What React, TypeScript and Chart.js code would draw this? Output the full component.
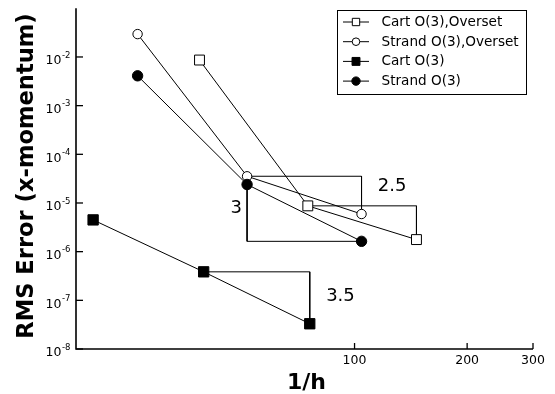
import { useEffect, useRef } from "react";
import { Chart, registerables } from "chart.js";

Chart.register(...registerables);

// Grid resolution (1/h) and RMS error of the x-momentum for each scheme
const cartOversetH = [38.5, 75.0, 146.4];
const cartOversetErr = [8.65e-3, 8.73e-6, 1.77e-6];
const strandOversetH = [26.3, 51.6, 104.4];
const strandOversetErr = [2.95e-2, 3.54e-5, 5.93e-6];
const cartH = [20.0, 39.5, 75.9];
const cartErr = [4.49e-6, 3.85e-7, 3.3e-8];
const strandH = [26.3, 51.6, 104.4];
const strandErr = [4.1e-3, 2.4e-5, 1.63e-6];

const seriesNames = ["Cart O(3),Overset", "Strand O(3),Overset", "Cart O(3)", "Strand O(3)"];

// Axis ticks
const xTicks = [100, 200, 300];
const yExponents = [-8, -7, -6, -5, -4, -3, -2];

// Observed order-of-accuracy labels
const slopeLabels = ["2.5", "3", "3.5"];
const slopeLabelH = [126, 48.3, 91.7];
const slopeLabelErr = [2.19e-5, 7.7e-6, 1.22e-7];

const FONT = '"DejaVu Sans", "Liberation Sans", sans-serif';

const pts = (xs: number[], ys: number[]) => xs.map((x, i) => ({ x, y: ys[i] }));

// Slope triangles drawn off the finest two grids of each scheme
const triStrandOverset = [
  { x: strandOversetH[1], y: strandOversetErr[1] },
  { x: strandOversetH[2], y: strandOversetErr[1] },
  { x: strandOversetH[2], y: strandOversetErr[2] },
];
const triStrand = [
  { x: strandH[1], y: strandErr[1] },
  { x: strandH[1], y: strandErr[2] },
  { x: strandH[2], y: strandErr[2] },
];
const triCartOverset = [
  { x: cartOversetH[1], y: cartOversetErr[1] },
  { x: cartOversetH[2], y: cartOversetErr[1] },
  { x: cartOversetH[2], y: cartOversetErr[2] },
];
const triCart = [
  { x: cartH[1], y: cartErr[1] },
  { x: cartH[2], y: cartErr[1] },
  { x: cartH[2], y: cartErr[2] },
];

const legendStyles = [
  { style: "rect", fill: "#ffffff", r: 5.2 },
  { style: "circle", fill: "#ffffff", r: 3.8 },
  { style: "rect", fill: "#000000", r: 5.6 },
  { style: "circle", fill: "#000000", r: 4.2 },
];

const decorPlugin = {
  id: "decor",
  afterDraw(chart: any) {
    const ctx = chart.ctx as CanvasRenderingContext2D;
    const area = chart.chartArea;
    const xs = chart.scales.x;
    const ys = chart.scales.y;
    ctx.save();
    ctx.strokeStyle = "#000";
    ctx.fillStyle = "#000";

    // axis lines
    ctx.lineWidth = 1.6;
    ctx.beginPath();
    ctx.moveTo(area.left, area.top);
    ctx.lineTo(area.left, area.bottom);
    ctx.lineTo(area.right, area.bottom);
    ctx.stroke();

    // y ticks (inside) and labels with superscript exponents
    ctx.lineWidth = 1.3;
    yExponents.forEach((e) => {
      const py = ys.getPixelForValue(Math.pow(10, e));
      ctx.beginPath();
      ctx.moveTo(area.left, py);
      ctx.lineTo(area.left + 7, py);
      ctx.stroke();
      const exp = String(e);
      ctx.font = `8.5px ${FONT}`;
      const expW = ctx.measureText(exp).width;
      ctx.textAlign = "right";
      ctx.textBaseline = "alphabetic";
      const right = 70.5;
      ctx.fillText(exp, right, py + 0.8);
      ctx.font = `12.5px ${FONT}`;
      ctx.fillText("10", right - expW - 0.5, py + 7.3);
    });

    // x ticks (inside) and labels
    xTicks.forEach((v) => {
      const px = xs.getPixelForValue(v);
      ctx.beginPath();
      ctx.moveTo(px, area.bottom);
      ctx.lineTo(px, area.bottom - 6);
      ctx.stroke();
      ctx.font = `12.5px ${FONT}`;
      ctx.textAlign = "center";
      ctx.textBaseline = "alphabetic";
      ctx.fillText(String(v), px, area.bottom + 15);
    });

    // axis titles
    ctx.font = `bold 22px ${FONT}`;
    ctx.textAlign = "center";
    ctx.fillText("1/h", (area.left + area.right) / 2 + 2, 388.5);
    ctx.save();
    ctx.translate(32.6, 176);
    ctx.rotate(-Math.PI / 2);
    ctx.font = `bold 22.6px ${FONT}`;
    ctx.fillText("RMS Error (x-momentum)", 0, 0);
    ctx.restore();

    // slope labels
    ctx.font = `18px ${FONT}`;
    ctx.textAlign = "center";
    ctx.textBaseline = "middle";
    slopeLabels.forEach((t, i) => {
      ctx.fillText(t, xs.getPixelForValue(slopeLabelH[i]), ys.getPixelForValue(slopeLabelErr[i]));
    });

    // legend
    const bx = 337.5, by = 10.5, bw = 189, bh = 84;
    ctx.fillStyle = "#fff";
    ctx.fillRect(bx, by, bw, bh);
    ctx.lineWidth = 1;
    ctx.strokeStyle = "#000";
    ctx.strokeRect(bx, by, bw, bh);
    ctx.font = `13.6px ${FONT}`;
    ctx.textAlign = "left";
    ctx.textBaseline = "middle";
    seriesNames.forEach((name, i) => {
      const y = 22 + i * 19.7;
      ctx.strokeStyle = "#000";
      ctx.lineWidth = 1;
      ctx.beginPath();
      ctx.moveTo(343, y);
      ctx.lineTo(369, y);
      ctx.stroke();
      const st = legendStyles[i];
      ctx.fillStyle = st.fill;
      ctx.beginPath();
      if (st.style === "rect") {
        const s = st.r * Math.SQRT1_2;
        ctx.rect(356 - s, y - s, 2 * s, 2 * s);
      } else {
        ctx.arc(356, y, st.r, 0, Math.PI * 2);
      }
      ctx.fill();
      ctx.stroke();
      ctx.fillStyle = "#000";
      ctx.fillText(name, 381.5, y + 0.5);
    });

    ctx.restore();
  },
};

export default function App() {
  const canvasRef = useRef<HTMLCanvasElement | null>(null);

  useEffect(() => {
    document.body.style.margin = "0";
    const canvas = canvasRef.current;
    if (!canvas) return;

    const series = (data: any[], pointStyle: string, fill: string, radius: number, order: number) => ({
      data,
      showLine: true,
      borderColor: "#000",
      borderWidth: 1,
      pointStyle,
      pointRadius: radius,
      pointBackgroundColor: fill,
      pointBorderColor: "#000",
      pointBorderWidth: 1,
      tension: 0,
      fill: false,
      order,
    });
    const tri = (data: any[]) => ({
      data,
      showLine: true,
      borderColor: "#000",
      borderWidth: 1,
      pointRadius: 0,
      tension: 0,
      fill: false,
      order: 10,
    });

    const chart = new Chart(canvas, {
      type: "scatter",
      data: {
        datasets: [
          series(pts(strandH, strandErr), "circle", "#000000", 5.2, 0),
          series(pts(cartH, cartErr), "rect", "#000000", 7.3, 1),
          series(pts(strandOversetH, strandOversetErr), "circle", "#ffffff", 4.7, 2),
          series(pts(cartOversetH, cartOversetErr), "rect", "#ffffff", 7, 3),
          tri(triStrandOverset),
          tri(triStrand),
          tri(triCartOverset),
          tri(triCart),
        ] as any,
      },
      options: {
        responsive: false,
        animation: false,
        layout: { padding: { top: 4, right: 22, left: 0, bottom: 0 } },
        plugins: { legend: { display: false }, tooltip: { enabled: false } },
        scales: {
          x: {
            type: "logarithmic",
            min: 18,
            max: 300,
            grid: { display: false },
            border: { display: false },
            ticks: { display: false },
            afterBuildTicks: (s: any) => {
              s.ticks = xTicks.map((v) => ({ value: v }));
            },
            afterFit: (s: any) => {
              s.height = 45;
            },
          },
          y: {
            type: "logarithmic",
            min: 1e-8,
            max: 1e-1,
            grid: { display: false },
            border: { display: false },
            ticks: { display: false },
            afterBuildTicks: (s: any) => {
              s.ticks = yExponents.map((e) => ({ value: Math.pow(10, e) }));
            },
            afterFit: (s: any) => {
              s.width = 76;
            },
          },
        },
      } as any,
      plugins: [decorPlugin],
    });

    return () => chart.destroy();
  }, []);

  return (
    <div style={{ position: "absolute", left: 0, top: 0, width: 555, height: 394, background: "#fff" }}>
      <canvas ref={canvasRef} width={555} height={394} />
    </div>
  );
}
